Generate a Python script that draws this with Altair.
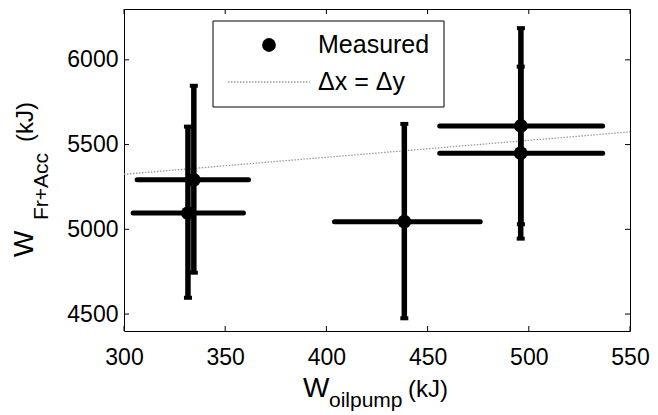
import altair as alt
import pandas as pd

# ---- data ----
x_vals = [331.6, 334.5, 438.5, 496.1, 496.0]
y_vals = [5096, 5292, 5045, 5610, 5449]
x_lo = [304.5, 306.5, 404.0, 456.0, 456.0]
x_hi = [359.0, 361.5, 476.0, 536.5, 536.5]
y_lo = [4596, 4744, 4475, 5030, 4945]
y_hi = [5606, 5847, 5622, 6187, 5960]

eq_x = [300, 550]
eq_y = [5325, 5575]

x_ticks = [300, 350, 400, 450, 500, 550]
y_ticks = [4500, 5000, 5500, 6000]

legend_labels = ["Measured", "\u0394x = \u0394y"]
x_title = ["W", "oilpump", "(kJ)"]
y_title = ["W", "Fr+Acc", "(kJ)"]

W, H = 506, 322
FONT = "Liberation Sans"

df = pd.DataFrame({"x": x_vals, "y": y_vals, "xlo": x_lo, "xhi": x_hi,
                   "ylo": y_lo, "yhi": y_hi})
eq = pd.DataFrame({"x": eq_x, "y": eq_y})
xt = pd.DataFrame({"v": x_ticks})
yt = pd.DataFrame({"v": y_ticks})
one = alt.Data(values=[{"a": 1}])

xs = alt.Scale(domain=[300, 550], nice=False, zero=False)
ys = alt.Scale(domain=[4400, 6300], nice=False, zero=False)


def X(f):
    return alt.X(f, type="quantitative", scale=xs, title=None,
                 axis=alt.Axis(values=x_ticks, labelPadding=15, format="d",
                               labelFlush=False, labelOverlap=False))


def Y(f):
    return alt.Y(f, type="quantitative", scale=ys, title=None,
                 axis=alt.Axis(values=y_ticks, labelPadding=6, format="d",
                               labelFlush=False, labelOverlap=False))


eq_line = alt.Chart(eq).mark_line(color="#9a9a9a", strokeWidth=1.3,
                                  strokeDash=[1.5, 1.5]).encode(x=X("x"), y=Y("y"))

hbar = alt.Chart(df).mark_rule(color="black", strokeWidth=5, strokeCap="round").encode(
    x=X("xlo"), x2="xhi", y=Y("y"))
vbar = alt.Chart(df).mark_rule(color="black", strokeWidth=5.5).encode(
    x=X("x"), y=Y("ylo"), y2="yhi")
cap_lo = alt.Chart(df).mark_tick(orient="horizontal", size=8, thickness=4,
                                 color="black", opacity=1).encode(x=X("x"), y=Y("ylo"))
cap_hi = alt.Chart(df).mark_tick(orient="horizontal", size=8, thickness=4,
                                 color="black", opacity=1).encode(x=X("x"), y=Y("yhi"))
pts = alt.Chart(df).mark_circle(size=190, color="black", opacity=1).encode(
    x=X("x"), y=Y("y"))

# inward ticks on all four sides
tick_l = alt.Chart(yt).mark_rule(color="black", strokeWidth=1).encode(
    y=Y("v"), x=alt.value(0), x2=alt.value(5))
tick_r = alt.Chart(yt).mark_rule(color="black", strokeWidth=1).encode(
    y=Y("v"), x=alt.value(W - 5), x2=alt.value(W))
tick_t = alt.Chart(xt).mark_rule(color="black", strokeWidth=1).encode(
    x=X("v"), y=alt.value(0), y2=alt.value(5))
tick_b = alt.Chart(xt).mark_rule(color="black", strokeWidth=1).encode(
    x=X("v"), y=alt.value(H - 5), y2=alt.value(H))

# legend
leg_box = alt.Chart(one).mark_rect(fill="white", stroke="black", strokeWidth=1).encode(
    x=alt.value(89), x2=alt.value(320), y=alt.value(12), y2=alt.value(98))
leg_pt = alt.Chart(one).mark_circle(size=190, color="black", opacity=1).encode(
    x=alt.value(145), y=alt.value(36))
leg_ln = alt.Chart(one).mark_rule(color="#9a9a9a", strokeWidth=1.3,
                                  strokeDash=[1.5, 1.5]).encode(
    x=alt.value(104), x2=alt.value(186), y=alt.value(73))


def txt(s, x, y, size, angle=0):
    kw = dict(align="left", baseline="alphabetic", font=FONT, fontSize=size,
              color="black")
    if angle:
        kw["angle"] = angle
    return alt.Chart(one).mark_text(**kw).encode(
        x=alt.value(x), y=alt.value(y), text=alt.value(s))


texts = [
    txt(legend_labels[0], 194, 44, 25),
    txt(legend_labels[1], 194, 81, 25),
    txt(x_title[0], 179, 388, 28),
    txt(x_title[1], 205, 397.5, 21),
    txt(x_title[2], 284, 388, 24),
    txt(y_title[0], -91, 248, 28, 270),
    txt(y_title[1], -76, 211, 21, 270),
    txt(y_title[2], -91, 133, 24, 270),
]

chart = alt.layer(
    eq_line, hbar, vbar, cap_lo, cap_hi, pts,
    tick_l, tick_r, tick_t, tick_b,
    leg_box, leg_pt, leg_ln, *texts
).properties(
    width=W, height=H,
    autosize=alt.AutoSizeParams(type="none"),
    padding={"left": 116, "top": 1, "right": 20, "bottom": 81},
    background="white",
).configure_view(
    stroke="black", strokeWidth=1
).configure_axis(
    grid=False, domain=False, ticks=False,
    labelFont=FONT, labelFontSize=23, labelColor="black",
)

chart.save("out.html", embed_options={"renderer": "svg", "actions": False})
